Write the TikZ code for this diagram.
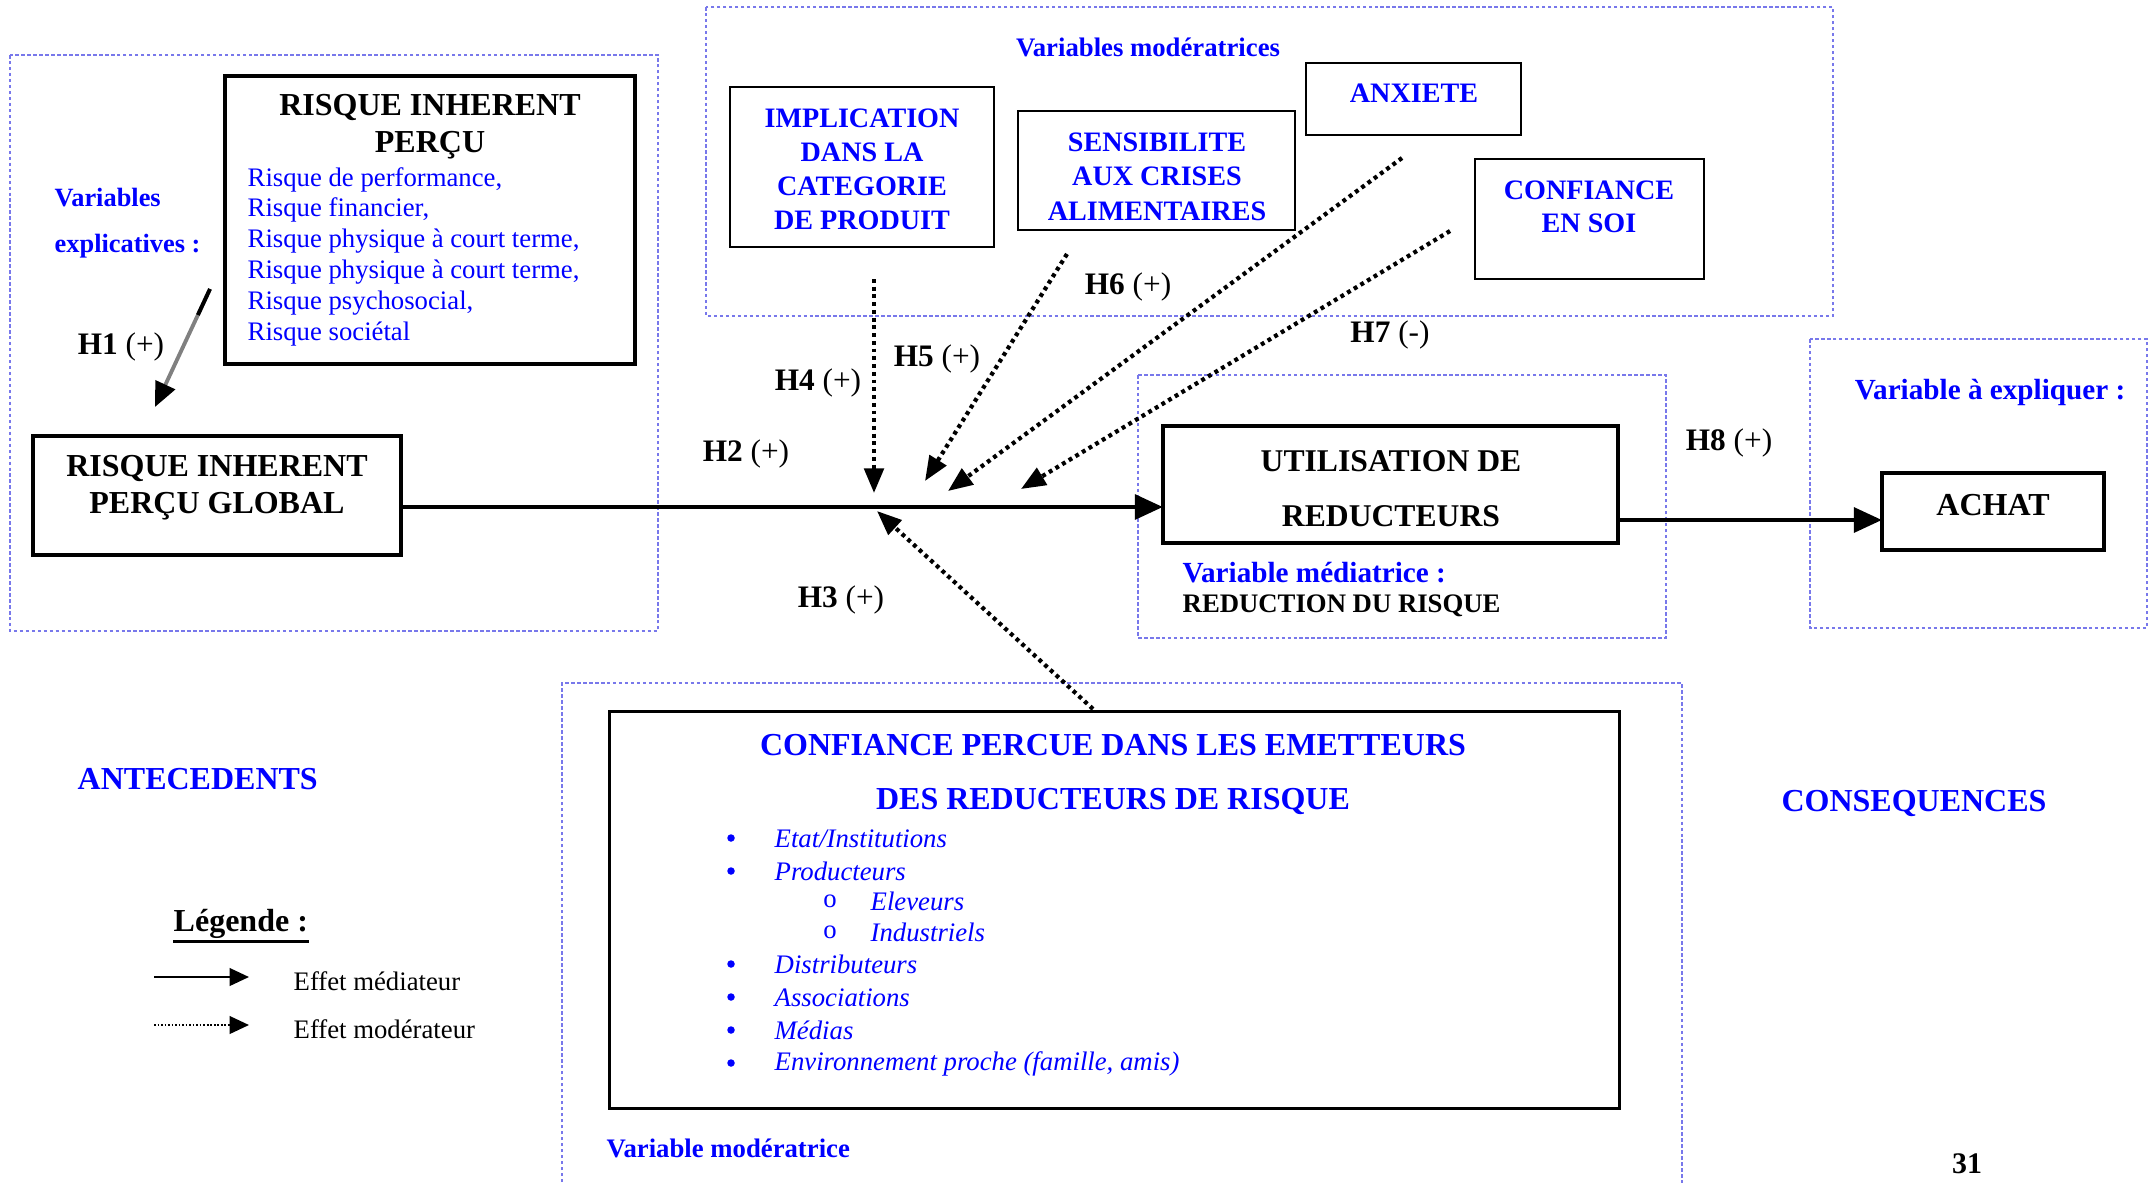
\documentclass[tikz,border=0pt]{standalone}
\usepackage{fontspec}
\setmainfont{Liberation Serif}
\usetikzlibrary{arrows.meta,calc}
\definecolor{rblue}{RGB}{0,0,255}
\definecolor{regblue}{RGB}{120,120,235}
\newcommand{\fsz}[2]{\fontsize{#1}{#2}\selectfont}
\begin{document}
\begin{tikzpicture}[x=0.01cm,y=-0.01cm,
  region/.style={draw=regblue, line width=0.35pt, dash pattern=on 1pt off 0.7pt},
  bigbox/.style={draw=black, line width=1.1pt, inner sep=0pt, outer sep=0pt},
  modbox/.style={draw=black, line width=0.7pt, inner sep=0pt, outer sep=0pt},
  tx/.style={inner sep=0pt, yshift=-0.7pt},
  ttl/.style={tx, font=\fsz{9.1}{10.5}\bfseries, align=center},
  modtxt/.style={tx, font=\fsz{8}{9.7}\bfseries, text=rblue, align=center},
  hlab/.style={tx, font=\fsz{8.9}{10}},
  bluelab/.style={tx, font=\fsz{8.3}{10}\bfseries, text=rblue},
  item/.style={tx, font=\fsz{7.6}{9}\itshape, text=rblue, anchor=west},
  bul/.style={circle, fill=rblue, inner sep=0pt, minimum size=0.075cm},
  subbul/.style={tx, font=\fsz{7.6}{9}, text=rblue},
  medarrow/.style={line width=1.3pt, -{Triangle[length=8pt,width=7pt]}},
  modarrow/.style={line width=1.2pt, dash pattern=on 1.1pt off 1.1pt, -{Triangle[length=7pt,width=5.5pt]}}
]
\useasboundingbox (0,0) rectangle (2155,1182);

% region boxes
\draw[region] (10,55) rectangle (658,631);
\draw[region] (706,7) rectangle (1833,316);
\draw[region] (1138,375) rectangle (1666,638);
\draw[region] (1810,339) rectangle (2147,628);
\draw[region] (562,1200) -- (562,683) -- (1682,683) -- (1682,1200);

% Risque inherent percu
\node[bigbox, minimum width=4.10cm, minimum height=2.88cm] (rip) at (430,220) {};
\node[ttl] (riptitle) at (430,124.5) {RISQUE INHERENT\\PERÇU};
\node[tx, font=\fsz{7.6}{8.76}, text=rblue, align=left, anchor=west] (riplist) at (247,254)
  {Risque de performance,\\Risque financier,\\Risque physique à court terme,\\Risque physique à court terme,\\Risque psychosocial,\\Risque sociétal};
\node[tx, font=\fsz{7.5}{13.1}\bfseries, text=rblue, align=left, anchor=west] (varexp) at (54,221) {Variables\\explicatives :};

% global
\node[bigbox, minimum width=3.68cm, minimum height=1.19cm] (global) at (217,495.5) {};
\node[ttl] (globaltxt) at (217,485) {RISQUE INHERENT\\PERÇU GLOBAL};

% H1
\coordinate (h1s) at (210,289);
\coordinate (h1e) at (155,407);
\coordinate (h1m) at ($(h1s)!0.22!(h1e)$);
\draw[line width=1.1pt, gray, -{Triangle[length=7pt,width=6pt,color=black]}] (h1s) -- (h1e);
\draw[line width=1.1pt, black] (h1s) -- (h1m);
\node[hlab] (h1) at (121,345) {\textbf{H1} (+)};

% moderators
\node[tx, font=\fsz{7.6}{9}\bfseries, text=rblue] (varmod) at (1148,45) {Variables modératrices};
\node[modbox, minimum width=2.64cm, minimum height=1.60cm] (impl) at (862,167) {};
\node[modtxt] (impltxt) at (862,167) {IMPLICATION\\DANS LA\\CATEGORIE\\DE PRODUIT};
\node[modbox, minimum width=2.77cm, minimum height=1.19cm] (sens) at (1156.5,170.5) {};
\node[modtxt, font=\fsz{8}{9.8}\bfseries] (senstxt) at (1157,174) {SENSIBILITE\\AUX CRISES\\ALIMENTAIRES};
\node[modbox, minimum width=2.15cm, minimum height=0.72cm] (anx) at (1413.5,99) {};
\node[modtxt] (anxtxt) at (1414,91) {ANXIETE};
\node[modbox, minimum width=2.29cm, minimum height=1.20cm] (conf) at (1589.5,219) {};
\node[modtxt, font=\fsz{8}{9.4}\bfseries] (conftxt) at (1589,204) {CONFIANCE\\EN SOI};

% mediator
\node[bigbox, minimum width=4.55cm, minimum height=1.17cm] (util) at (1390.5,484.5) {};
\node[ttl, font=\fsz{9}{15.6}\bfseries] (utiltxt) at (1391,486) {UTILISATION DE\\REDUCTEURS};
\node[bluelab, anchor=west] (varmed) at (1182,570) {Variable médiatrice :};
\node[tx, font=\fsz{7.6}{9}\bfseries, anchor=west] (redrisk) at (1182,603) {REDUCTION DU RISQUE};

% achat
\node[bluelab] (varexpl) at (1990,390) {Variable à expliquer :};
\node[bigbox, minimum width=2.22cm, minimum height=0.77cm] (achat) at (1993,511.5) {};
\node[ttl] (achattxt) at (1993,503) {ACHAT};

% main arrows
\coordinate (yh2) at (0,507);
\coordinate (yh8) at (0,520);
\draw[medarrow] (global.east |- yh2) -- (util.west |- yh2);
\draw[medarrow] (util.east |- yh8) -- (achat.west |- yh8);
\node[hlab] (h2) at (746,452) {\textbf{H2} (+)};
\node[hlab] (h8) at (1729,441) {\textbf{H8} (+)};

% moderating arrows
\coordinate (h4s) at (874,279);  \coordinate (h4e) at (874,493);
\coordinate (h5s) at (1067,254); \coordinate (h5e) at (925,481);
\coordinate (h6s) at (1402,158); \coordinate (h6e) at (948,491);
\coordinate (h7s) at (1450,231); \coordinate (h7e) at (1021,489);
\coordinate (h3s) at (1093,709); \coordinate (h3e) at (877,511);
\draw[modarrow] (h4s) -- (h4e);
\draw[modarrow] (h5s) -- (h5e);
\draw[modarrow] (h6s) -- (h6e);
\draw[modarrow] (h7s) -- (h7e);
\draw[modarrow] (h3s) -- (h3e);
\node[hlab] (h4) at (818,381) {\textbf{H4} (+)};
\node[hlab] (h5) at (937,357) {\textbf{H5} (+)};
\node[hlab] (h6) at (1128,285) {\textbf{H6} (+)};
\node[hlab] (h7) at (1390,333) {\textbf{H7} (-)};
\node[hlab] (h3) at (841,598) {\textbf{H3} (+)};

% confiance percue
\node[modbox, line width=0.9pt, minimum width=10.09cm, minimum height=3.96cm] (cpd) at (1114.5,910) {};
\node[ttl, text=rblue, font=\fsz{9.1}{15.6}\bfseries] (cpdtxt) at (1113,772) {CONFIANCE PERCUE DANS LES EMETTEURS\\DES REDUCTEURS DE RISQUE};
\node[bul] (b1) at (731,838) {};  \node[item] (i1) at (774,836) {Etat/Institutions};
\node[bul] (b2) at (731,871) {};  \node[item] (i2) at (774,869) {Producteurs};
\node[subbul] (b3) at (830,899) {o};  \node[item] (i3) at (870,899) {Eleveurs};
\node[subbul] (b4) at (830,930) {o};  \node[item] (i4) at (870,930) {Industriels};
\node[bul] (b5) at (731,964) {};  \node[item] (i5) at (774,962) {Distributeurs};
\node[bul] (b6) at (731,997) {};  \node[item] (i6) at (774,995) {Associations};
\node[bul] (b7) at (731,1030) {}; \node[item] (i7) at (774,1028) {Médias};
\node[bul] (b8) at (731,1063) {}; \node[item] (i8) at (774,1061) {Environnement proche (famille, amis)};
\node[tx, font=\fsz{7.6}{9}\bfseries, text=rblue, anchor=west] (varmod2) at (606,1146) {Variable modératrice};

% side labels
\node[ttl, text=rblue, anchor=west] (ante) at (77,777) {ANTECEDENTS};
\node[ttl, text=rblue] (conseq) at (1914,801) {CONSEQUENCES};

% legend
\node[ttl, anchor=west] (leg) at (173,921) {Légende :};
\draw[line width=0.9pt] (leg.south west) ++(0,3) -- ($(leg.south east)+(0,3)$);
\coordinate (l1s) at (154,977); \coordinate (l1e) at (249,977);
\coordinate (l2s) at (154,1025); \coordinate (l2e) at (249,1025);
\draw[line width=0.6pt, -{Triangle[length=5.5pt,width=5pt]}] (l1s) -- (l1e);
\draw[line width=0.6pt, dash pattern=on 0.5pt off 0.5pt, -{Triangle[length=5.5pt,width=5pt]}] (l2s) -- (l2e);
\node[tx, font=\fsz{7.6}{9}, anchor=west] (leg1) at (293,979) {Effet médiateur};
\node[tx, font=\fsz{7.6}{9}, anchor=west] (leg2) at (293,1027) {Effet modérateur};

\node[tx, font=\fsz{8.5}{10}\bfseries] (page) at (1967,1161) {31};
\end{tikzpicture}
\end{document}
